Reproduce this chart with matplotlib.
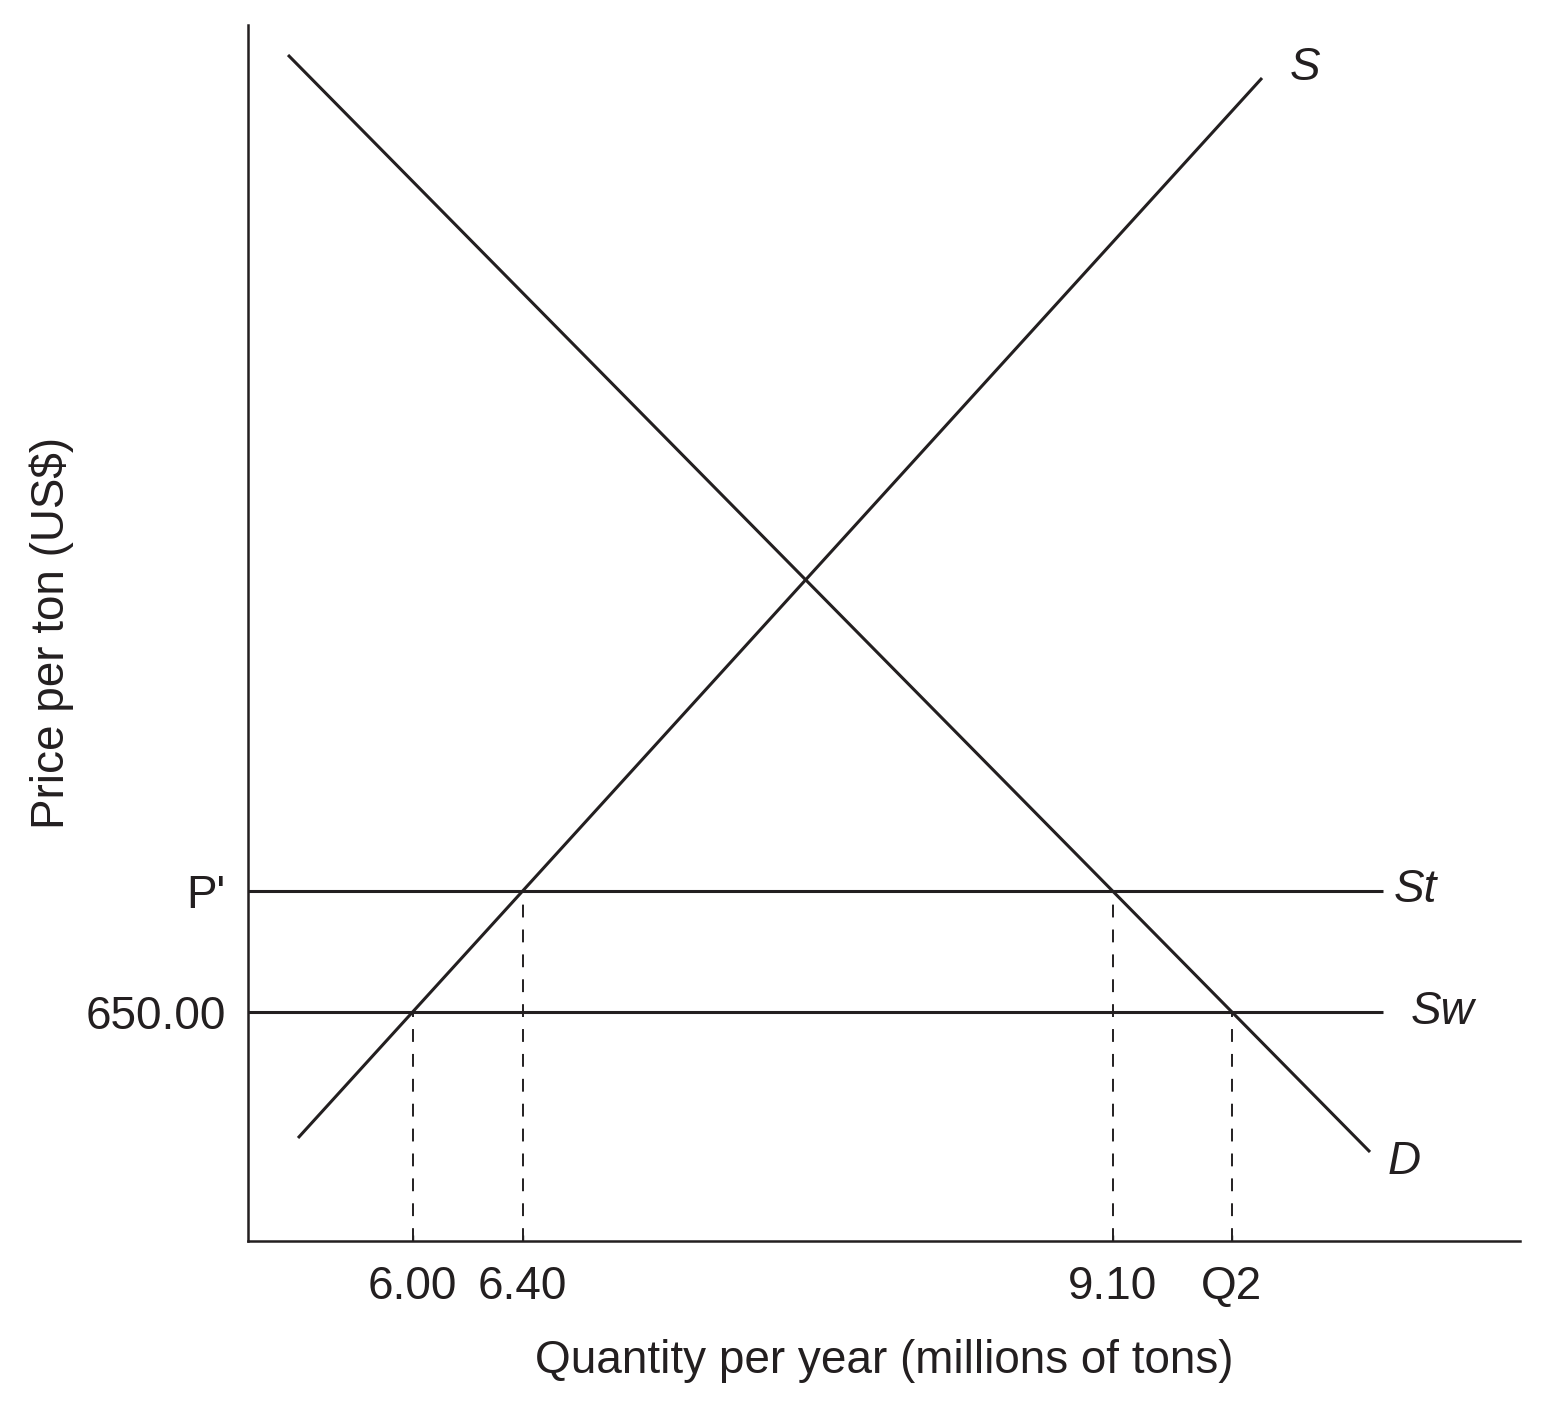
import numpy as np
import matplotlib.pyplot as plt

plt.rcParams['font.family'] = ['Liberation Sans', 'DejaVu Sans']

ink = '#231f20'

# schematic units (not to scale)
demand_q = [4.0, 112.2]
demand_p = [118.6, 8.9]
supply_q = [5.0, 101.4]
supply_p = [10.3, 116.3]
p_tariff = 35.0      # P'
p_world = 22.9       # 650.00
flat_end = 113.5

x_ticklabels = ['6.00', '6.40', '9.10', 'Q2']
y_ticklabels = ['650.00', "P'"]


def supply_at(p):
    return np.interp(p, supply_p, supply_q)


def demand_at(p):
    return np.interp(p, demand_p[::-1], demand_q[::-1])


fig = plt.figure(figsize=(15.55, 14.04), dpi=100)
ax = fig.add_axes([0.1595, 0.1161, 0.818, 0.8661])

ax.plot(demand_q, demand_p, color=ink, lw=2.2, solid_capstyle='butt')
ax.plot(supply_q, supply_p, color=ink, lw=2.2, solid_capstyle='butt')
ax.plot([0, flat_end], [p_tariff, p_tariff], color=ink, lw=2.2, solid_capstyle='butt')
ax.plot([0, flat_end], [p_world, p_world], color=ink, lw=2.2, solid_capstyle='butt')

qs = [supply_at(p_world), supply_at(p_tariff), demand_at(p_tariff), demand_at(p_world)]
ps = [p_world, p_tariff, p_tariff, p_world]
for q, p in zip(qs, ps):
    ax.plot([q, q], [0, p], color=ink, lw=1.4, dashes=(6.6, 6.2))

# curve labels
lab = dict(fontsize=33, style='italic', color=ink, textcoords='offset points', va='center')
ax.annotate('S', (supply_q[1], supply_p[1]), xytext=(31, 7), ha='center', **lab)
ax.annotate('St', (flat_end, p_tariff), xytext=(8, 1), ha='left', **lab)
ax.annotate('Sw', (flat_end, p_world), xytext=(20, 0), ha='left', **lab)
ax.annotate('D', (demand_q[1], demand_p[1]), xytext=(13, -7), ha='left', **lab)

ax.set_xlim(0, 127.2)
ax.set_ylim(0, 121.6)
ax.set_xticks(qs)
ax.set_xticklabels(x_ticklabels)
ax.set_yticks([p_world, p_tariff])
ax.set_yticklabels(y_ticklabels)
ax.tick_params(axis='x', direction='in', length=4, width=1, color=ink, labelsize=33,
               labelcolor=ink, pad=17)
ax.tick_params(axis='y', direction='in', length=0, labelsize=33, labelcolor=ink, pad=16)

for side in ['top', 'right']:
    ax.spines[side].set_visible(False)
for side in ['left', 'bottom']:
    ax.spines[side].set_color(ink)
    ax.spines[side].set_linewidth(1.8)

ax.set_xlabel('Quantity per year (millions of tons)', fontsize=33, color=ink, labelpad=22)
ax.set_ylabel('Price per ton (US$)', fontsize=33, color=ink, labelpad=8)

fig.savefig('out.png', dpi=100, facecolor='white')
